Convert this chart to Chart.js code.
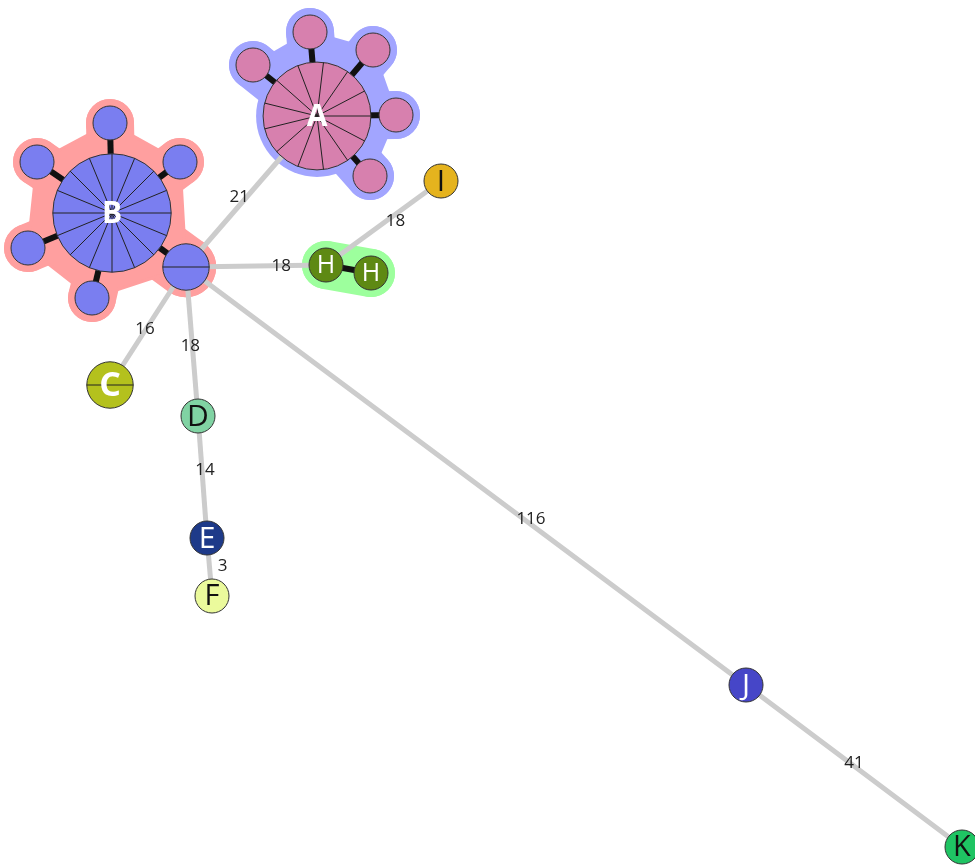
<!DOCTYPE html>
<html>
<head>
<meta charset="utf-8">
<script src="https://cdn.jsdelivr.net/npm/chart.js@4.4.1/dist/chart.umd.min.js"></script>
<style>
  body { margin: 0; background: #fff; }
  canvas { display: block; }
</style>
</head>
<body>
<canvas id="tree" width="975" height="868"></canvas>
<script>
// nodes of the tree: group, shown text, layout position, number of isolates
const nodeGroup = ['A', 'A', 'A', 'A', 'A', 'A', 'B', 'B', 'B', 'B', 'B', 'B', 'B', 'C', 'D', 'E', 'F', 'H', 'H', 'I', 'J', 'K']
const nodeText = ['A', '', '', '', '', '', 'B', '', '', '', '', '', '', 'C', 'D', 'E', 'F', 'H', 'H', 'I', 'J', 'K']
const nodeX = [317, 310, 253, 373, 396, 370, 112, 110, 180, 37, 28, 92, 186, 110, 198, 207, 212, 326, 371, 441, 746, 962]
const nodeY = [116, 32, 65, 50, 115, 176, 213, 123, 162, 162, 248, 298, 267, 385, 416, 538, 596, 265, 273, 181, 685, 847]
const nodeCount = [13, 1, 1, 1, 1, 1, 16, 1, 1, 1, 1, 1, 2, 2, 1, 1, 1, 1, 1, 1, 1, 1]

// zero distance links (drawn black, inside a cluster)
const linkFrom = [0, 0, 0, 0, 0, 6, 6, 6, 6, 6, 6, 17]
const linkTo = [1, 2, 3, 4, 5, 7, 8, 9, 10, 11, 12, 18]

// distance edges
const edgeFrom = [12, 12, 17, 12, 12, 14, 15, 12, 20]
const edgeTo = [0, 17, 19, 13, 14, 15, 16, 20, 21]
const edgeWeight = [21, 18, 18, 16, 18, 14, 3, 116, 41]

const groupStyle = {
  A: { fill: '#d780ae', text: '#fff', bold: true, size: 30, halo: '#a2a5ff' },
  B: { fill: '#7a7ef0', text: '#fff', bold: true, size: 30, halo: '#ff9f9f' },
  C: { fill: '#b4c11d', text: '#fff', bold: true, size: 34 },
  D: { fill: '#80d3a3', text: '#111', bold: false, size: 30 },
  E: { fill: '#1e3a89', text: '#fff', bold: false, size: 30 },
  F: { fill: '#ebfa9c', text: '#111', bold: false, size: 29 },
  H: { fill: '#5e8913', text: '#fff', bold: false, size: 25, halo: '#9dff9d' },
  I: { fill: '#e5b31e', text: '#111', bold: false, size: 30 },
  J: { fill: '#4646c8', text: '#fff', bold: false, size: 30 },
  K: { fill: '#1fc463', text: '#111', bold: false, size: 29 }
}
// where the weight text sits along an edge: [fraction, dx, dy]
const labelPlace = [[0.46, -7, 0], [0.68, 0, 1], [0.5, 12, -2], [0.5, -3, 3], [0.53, -2, 0],
  [0.44, 3, 0], [0.5, 13, -1], [0.616, 0, -5], [0.5, 0, -3]]

const radius = i => 17 * Math.pow(nodeCount[i], 0.45)
const px = (chart, i) => ({
  x: chart.scales.x.getPixelForValue(nodeX[i]),
  y: chart.scales.y.getPixelForValue(nodeY[i])
})

// clusters = nodes joined by zero distance links
function clusters () {
  const parent = nodeX.map((_, i) => i)
  const find = i => parent[i] === i ? i : (parent[i] = find(parent[i]))
  linkFrom.forEach((a, k) => { parent[find(a)] = find(linkTo[k]) })
  const groups = {}
  linkFrom.concat(linkTo).forEach(i => {
    const r = find(i)
    groups[r] = groups[r] || new Set()
    groups[r].add(i)
  })
  return Object.values(groups).map(s => [...s])
}

const haloPlugin = {
  id: 'halos',
  beforeDatasetsDraw (chart) {
    const ctx = chart.ctx
    const pad = 7
    ctx.save()
    clusters().forEach(members => {
      const hub = members.reduce((a, b) => nodeCount[b] > nodeCount[a] ? b : a)
      const style = groupStyle[nodeGroup[hub]]
      ctx.fillStyle = style.halo
      ctx.strokeStyle = style.halo
      ctx.lineCap = 'round'
      ctx.lineJoin = 'round'
      members.forEach(i => {
        const p = px(chart, i)
        ctx.beginPath()
        ctx.arc(p.x, p.y, radius(i) + pad, 0, Math.PI * 2)
        ctx.fill()
      })
      linkFrom.forEach((a, k) => {
        if (!members.includes(a)) return
        const p = px(chart, a)
        const q = px(chart, linkTo[k])
        ctx.lineWidth = 2 * (Math.min(radius(a), radius(linkTo[k])) + pad)
        ctx.beginPath()
        ctx.moveTo(p.x, p.y)
        ctx.lineTo(q.x, q.y)
        ctx.stroke()
      })
      // web between neighbouring satellites
      const c = px(chart, hub)
      const ring = members.filter(i => i !== hub)
        .map(i => ({ p: px(chart, i) }))
        .map(o => ({ p: o.p, a: Math.atan2(o.p.y - c.y, o.p.x - c.x) }))
        .sort((u, v) => u.a - v.a)
      if (ring.length >= 3) {
        ctx.lineWidth = 3
        ctx.beginPath()
        ring.forEach((o, k) => k ? ctx.lineTo(o.p.x, o.p.y) : ctx.moveTo(o.p.x, o.p.y))
        ctx.closePath()
        ctx.fill()
        ctx.stroke()
      }
    })
    ctx.restore()
  }
}

const textPlugin = {
  id: 'nodeText',
  afterDatasetsDraw (chart) {
    const ctx = chart.ctx
    ctx.save()
    // pie slice dividers
    ctx.strokeStyle = '#222'
    ctx.lineWidth = 1
    nodeCount.forEach((n, i) => {
      if (n < 2) return
      const p = px(chart, i)
      const r = radius(i)
      for (let k = 0; k < n; k++) {
        const a = k * 2 * Math.PI / n
        ctx.beginPath()
        ctx.moveTo(p.x, p.y)
        ctx.lineTo(p.x + r * Math.cos(a), p.y + r * Math.sin(a))
        ctx.stroke()
      }
    })
    // node letters
    ctx.textAlign = 'center'
    ctx.textBaseline = 'middle'
    nodeText.forEach((t, i) => {
      if (!t) return
      const s = groupStyle[nodeGroup[i]]
      const p = px(chart, i)
      ctx.font = (s.bold ? 'bold ' : '') + s.size + 'px "Open Sans"'
      ctx.fillStyle = s.text
      ctx.fillText(t, p.x, p.y + 1)
    })
    // edge weights
    ctx.font = '17px "Open Sans"'
    ctx.fillStyle = '#222'
    edgeWeight.forEach((w, k) => {
      const a = px(chart, edgeFrom[k])
      const b = px(chart, edgeTo[k])
      const [t, dx, dy] = labelPlace[k]
      ctx.fillText(String(w), a.x + (b.x - a.x) * t + dx, a.y + (b.y - a.y) * t + dy)
    })
    ctx.restore()
  }
}

const pt = i => ({ x: nodeX[i], y: nodeY[i] })

const datasets = [{
  label: 'nodes',
  order: 0,
  data: nodeX.map((_, i) => pt(i)),
  pointRadius: nodeX.map((_, i) => radius(i)),
  pointHoverRadius: nodeX.map((_, i) => radius(i)),
  pointBackgroundColor: nodeGroup.map(g => groupStyle[g].fill),
  pointBorderColor: '#333',
  pointBorderWidth: 1,
  clip: false
}]
linkFrom.forEach((a, k) => {
  datasets.push({
    order: 1,
    data: [pt(a), pt(linkTo[k])],
    showLine: true,
    borderColor: '#111',
    borderWidth: 6,
    pointRadius: 0,
    clip: false
  })
})
edgeFrom.forEach((a, k) => {
  datasets.push({
    order: 2,
    data: [pt(a), pt(edgeTo[k])],
    showLine: true,
    borderColor: '#cccccc',
    borderWidth: 5,
    pointRadius: 0,
    clip: false
  })
})

const ctx = document.getElementById('tree')
new Chart(ctx, {
  type: 'scatter',
  data: { datasets: datasets },
  options: {
    responsive: false,
    animation: false,
    events: [],
    layout: { padding: 0, autoPadding: false },
    plugins: { legend: { display: false }, tooltip: { enabled: false } },
    scales: {
      x: { type: 'linear', min: 0, max: 975, display: false },
      y: { type: 'linear', min: 0, max: 868, reverse: true, display: false }
    }
  },
  plugins: [haloPlugin, textPlugin]
})
</script>
</body>
</html>
